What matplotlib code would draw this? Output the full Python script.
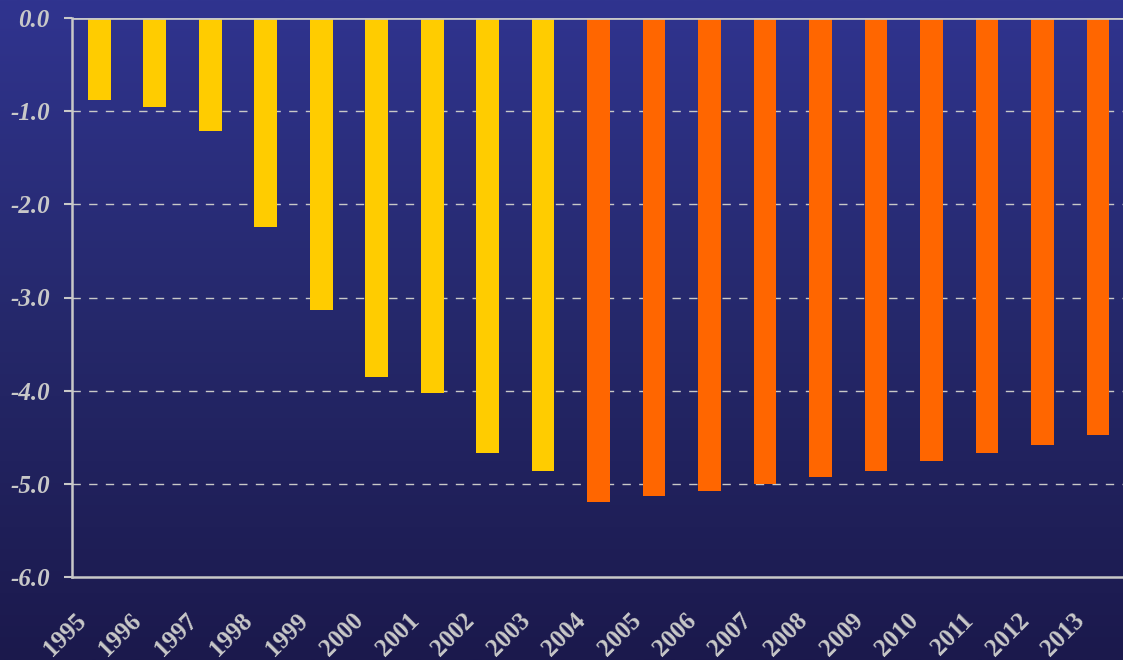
import numpy as np
import matplotlib
matplotlib.use("Agg")
import matplotlib.pyplot as plt
from matplotlib.colors import LinearSegmentedColormap

# balance values
years = [str(y) for y in range(1995, 2014)]
values = [-0.88, -0.96, -1.21, -2.24, -3.13, -3.85, -4.03, -4.67, -4.86,
          -5.19, -5.13, -5.08, -5.00, -4.93, -4.86, -4.76, -4.67, -4.58, -4.48]
n_actual = 9  # 1995-2003 yellow, rest orange (projections)
yticks = [0.0, -1.0, -2.0, -3.0, -4.0, -5.0, -6.0]

yellow = "#FFCC00"
orange = "#FF6600"
light = "#C8C8C8"

fig = plt.figure(figsize=(11.23, 6.6), dpi=100)

# gradient background
bg = fig.add_axes([0, 0, 1, 1], zorder=0)
cmap = LinearSegmentedColormap.from_list("bg", ["#1B194C", "#25286A", "#30348F"])
grad = np.linspace(0, 1, 256).reshape(-1, 1)
bg.imshow(grad, aspect="auto", cmap=cmap, origin="lower", extent=[0, 1, 0, 1])
bg.axis("off")

ax = fig.add_axes([72 / 1123, 1 - 577 / 660, 1 - 72 / 1123, (577 - 18) / 660], zorder=1)
ax.patch.set_alpha(0)

x = np.arange(len(years))
colors = [yellow if i < n_actual else orange for i in range(len(years))]
ax.bar(x, values, width=0.41, color=colors, zorder=3)

ax.set_ylim(-6, 0)
ax.set_xlim(-0.49, 18.45)
ax.set_yticks(yticks)
ax.set_yticklabels([f"{t:.1f}" for t in yticks], fontfamily="Liberation Serif",
                   fontweight="bold", fontstyle="italic", fontsize=18, color=light)
# year labels sit a little left of each bar
ax.set_xticks(x - 0.45)
ax.set_xticklabels(years, rotation=45, ha="right", va="top", rotation_mode="anchor",
                   fontfamily="Liberation Serif", fontweight="bold", fontsize=18, color=light)
ax.tick_params(axis="x", length=0, pad=23)
ax.tick_params(axis="y", length=6, width=1.5, color=light, pad=10)

for y in [-1, -2, -3, -4, -5]:
    ax.axhline(y, color=light, lw=1, ls=(0, (6, 6)), zorder=1)
ax.axhline(0, color=light, lw=2, zorder=4)

for side in ["left", "bottom"]:
    ax.spines[side].set_color(light)
    ax.spines[side].set_linewidth(1.8)
for side in ["top", "right"]:
    ax.spines[side].set_visible(False)

fig.savefig("out.png", dpi=100)
